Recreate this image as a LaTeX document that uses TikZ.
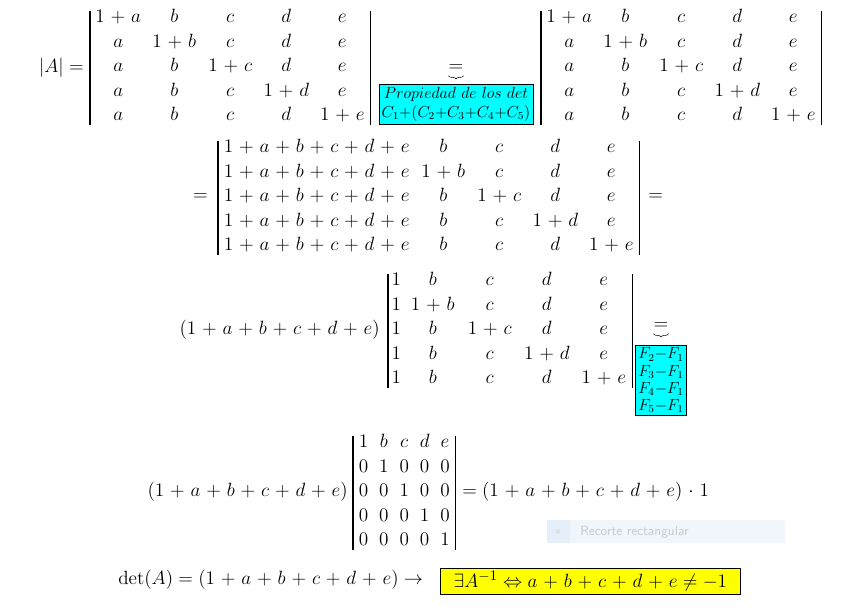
\documentclass[tikz,border=0pt]{standalone}
\usepackage{amsmath}
\usepackage{amssymb}
\usepackage{tikz}
\usetikzlibrary{matrix,positioning,decorations.pathreplacing}
\definecolor{propcyan}{RGB}{0,255,255}
\definecolor{condyellow}{RGB}{255,255,0}
\definecolor{tipbg}{RGB}{240,246,252}
\definecolor{tipleft}{RGB}{229,239,250}
\medmuskip=5.5mu plus 2mu minus 4mu

\begin{document}
\begin{tikzpicture}[x=0.75pt,y=-0.75pt,
    every node/.style={inner sep=0pt,font=\fontsize{15.5}{18.4}\selectfont},
    detmat/.style={matrix of math nodes,inner sep=0pt,column sep=0pt,row sep=0pt,
      nodes={inner sep=0pt,minimum width=42pt,minimum height=18.4pt,text height=11pt,text depth=4pt,font=\fontsize{15}{18.4}\selectfont}},
    bar/.style={line width=1.2pt},
    cyanbox/.style={draw,line width=0.6pt,fill=propcyan,inner sep=2pt,align=center,font=\fontsize{12}{14.5}\selectfont},
    brc/.style={decorate,decoration={brace,mirror,amplitude=2.5pt}}]
    \useasboundingbox (0,0) rectangle (850,609);
    % |A| = ... = ...
    \node[anchor=east] (absA) at (84,68) {$|A| =$};
    \matrix (detA) [detmat,anchor=west] at (90,67) {
        1+a & b & c & d & e\\
        a & 1+b & c & d & e\\
        a & b & 1+c & d & e\\
        a & b & c & 1+d & e\\
        a & b & c & d & 1+e\\
    };
    \node (eqA) at (456,68) {$=$};
    \draw[brc] ([yshift=-3pt]eqA.south west)--([yshift=-3pt]eqA.south east);
    \node[cyanbox,anchor=north] (propA) at (456,84) {$Propiedad\ de\ los\ det$\\$C_1{+}(C_2{+}C_3{+}C_4{+}C_5)$};
    \matrix (detB) [detmat,anchor=west] at (541,67) {
        1+a & b & c & d & e\\
        a & 1+b & c & d & e\\
        a & b & 1+c & d & e\\
        a & b & c & 1+d & e\\
        a & b & c & d & 1+e\\
    };
    % first column summed
    \node[anchor=east] (eqB) at (208,197) {$=$};
    \matrix (detC) [detmat,anchor=west,column 1/.style={nodes={minimum width=147.75pt}}] at (218,197) {
        1+a+b+c+d+e & b & c & d & e\\
        1+a+b+c+d+e & 1+b & c & d & e\\
        1+a+b+c+d+e & b & 1+c & d & e\\
        1+a+b+c+d+e & b & c & 1+d & e\\
        1+a+b+c+d+e & b & c & d & 1+e\\
    };
    \node[anchor=west] (eqC) at (648,197) {$=$};
    % factor taken out
    \node[anchor=east] (factA) at (380,330) {$(1+a+b+c+d+e)$};
    \matrix (detD) [detmat,anchor=west,nodes={minimum width=42.75pt},column 1/.style={nodes={minimum width=12pt}}] at (388,330) {
        1 & b & c & d & e\\
        1 & 1+b & c & d & e\\
        1 & b & 1+c & d & e\\
        1 & b & c & 1+d & e\\
        1 & b & c & d & 1+e\\
    };
    \node (eqD) at (661,326) {$=$};
    \draw[brc] ([yshift=-3pt]eqD.south west)--([yshift=-3pt]eqD.south east);
    \node[cyanbox,anchor=north,font=\fontsize{11.5}{12.8}\selectfont] (rowsA) at (661,345) {$F_2{-}F_1$\\$F_3{-}F_1$\\$F_4{-}F_1$\\$F_5{-}F_1$};
    % triangular
    \node[anchor=east] (factB) at (348,492) {$(1+a+b+c+d+e)$};
    \matrix (detE) [detmat,anchor=west,nodes={minimum width=15.3pt}] at (353,492) {
        1 & b & c & d & e\\
        0 & 1 & 0 & 0 & 0\\
        0 & 0 & 1 & 0 & 0\\
        0 & 0 & 0 & 1 & 0\\
        0 & 0 & 0 & 0 & 1\\
    };
    \node[anchor=west] (eqE) at (462,492) {$=(1+a+b+c+d+e)\cdot 1$};
    % determinant bars
    \foreach \m in {detA,detB,detC,detD,detE}{
      \draw[bar] ([yshift=-4pt]\m.north west)--([yshift=3pt]\m.south west);
      \draw[bar] ([yshift=-4pt]\m.north east)--([yshift=3pt]\m.south east);
    }
    % faint tooltip
    \fill[tipbg] (547,520) rectangle (785,543);
    \fill[tipleft] (547,520) rectangle (570,543);
    \fill[black!12] (558,531.5) circle (2.5);
    \node[anchor=west,font=\sffamily\fontsize{10}{11}\selectfont,text=black!22] (tip) at (580,532) {Recorte rectangular};
    % result
    \node[anchor=west] (detF) at (118,580) {$\det(A)=(1+a+b+c+d+e)\to$};
    \node[draw,line width=0.6pt,fill=condyellow,inner xsep=2pt,minimum width=225pt,minimum height=19.5pt,anchor=west] (cond) at (440,581) {$\exists A^{-1}\Leftrightarrow a+b+c+d+e\neq -1$};
\end{tikzpicture}
\end{document}
